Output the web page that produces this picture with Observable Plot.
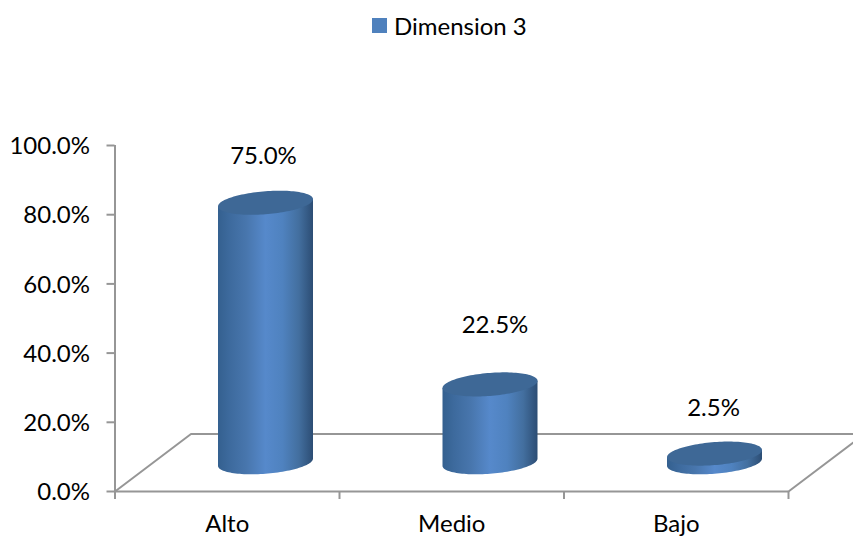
<!DOCTYPE html>
<html lang="es">
<head>
<meta charset="utf-8">
<script src="https://cdn.jsdelivr.net/npm/d3@7"></script>
<script src="https://cdn.jsdelivr.net/npm/@observablehq/plot@0.6"></script>
<style>
  html, body { margin: 0; padding: 0; background: #fff; }
  #legend { height: 54px; box-sizing: border-box; padding: 0 0 3px 372px; display: flex; align-items: center;
            font: 24px Lato, sans-serif; color: #000; }
  #legend i { width: 15px; height: 15px; background: #4f81bd; margin-right: 7px; display: block; }
  #chart svg { display: block; }
</style>
</head>
<body>
<div id="legend"><i></i><span>Dimension 3</span></div>
<div id="chart"></div>
<script>
const categories = ["Alto", "Medio", "Bajo"];
const shares = [75.0, 22.5, 2.5];
const yTicks = [0, 20, 40, 60, 80, 100];

// Plot area in pixels; x counts category slots, y counts percent.
const slotPx = 224.5, percentPx = 3.46;
const plotLeft = 114.5, plotTop = 91, plotH = 346, W = 853, H = 483;
const xMax = (W - plotLeft) / slotPx;

// Oblique floor depth and cylinder proportions, in data units.
const depthX = 76 / slotPx, depthY = 57.5 / percentPx;
const rx = 47.5 / slotPx, ry = 11.5 / percentPx;
const tilt = 3.6 / percentPx;
const cylinderShift = 0.75 / slotPx;

const slots = categories.map((name, i) => ({name, value: shares[i], cx: i + 0.5 + depthX / 2 + cylinderShift}));
const steps = d3.range(0, 61).map(k => Math.cos(Math.PI * (1 - k / 60)));

// Lower or upper rim of a sheared ellipse sitting at height h.
const rim = (t, h, side) => depthY / 2 + h + tilt * t + side * ry * Math.sqrt(Math.max(0, 1 - t * t));

const body = slots.flatMap(s => steps.map(t => ({
  name: s.name, x: s.cx + rx * t, y1: rim(t, 0, -1), y2: rim(t, s.value, 0)
})));
const cap = slots.flatMap(s => steps.map(t => ({
  name: s.name, x: s.cx + rx * t, y1: rim(t, s.value, -1), y2: rim(t, s.value, 1)
})));

// Floor outline: left edge, back edge, right edge.
const floor = [[0, 0], [depthX, depthY], [3 + depthX, depthY], [3, 0]];

// Data labels sit at differing heights above their caps (pixel nudges, converted to data units).
const labelNudge = {Alto: [-2.5, 46.5], Medio: [4.5, 60], Bajo: [-1.5, 46]};
const labels = slots.map(s => ({
  x: s.cx + labelNudge[s.name][0] / slotPx,
  y: depthY / 2 + s.value + labelNudge[s.name][1] / percentPx,
  text: s.value.toFixed(1) + "%"
}));

const gray = "#969696";

const defs = () => {
  const d = d3.create("svg:defs");
  const g = d.append("linearGradient").attr("id", "cylinder");
  [[0, "#34608f"], [0.12, "#3d6a9d"], [0.3, "#4876ad"], [0.5, "#5689cb"], [0.68, "#4f82bf"], [0.85, "#436f9f"], [1, "#2c4d74"]]
    .forEach(([o, c]) => g.append("stop").attr("offset", o).attr("stop-color", c));
  return d.node();
};

const chart = Plot.plot({
  width: W, height: H,
  marginLeft: plotLeft, marginRight: 0, marginTop: plotTop, marginBottom: H - plotTop - plotH,
  style: {background: "#fff", color: "#000", fontFamily: "Lato, sans-serif"},
  x: {type: "linear", domain: [0, xMax]},
  y: {type: "linear", domain: [0, 100]},
  marks: [
    defs,
    Plot.line(floor, {x: d => d[0], y: d => d[1], stroke: gray, strokeWidth: 2}),
    Plot.ruleY([0], {x1: 0, x2: 3, stroke: gray, strokeWidth: 2}),
    Plot.ruleX([0], {y1: 0, y2: 100, stroke: gray, strokeWidth: 2}),
    Plot.axisY({ticks: yTicks, tickSize: 8, stroke: gray, strokeWidth: 2, tickFormat: () => "", label: null}),
    Plot.axisY({ticks: yTicks, tickSize: 0, tickPadding: 25, dy: 1, fontSize: 24,
      tickFormat: d => d.toFixed(1) + "%", label: null}),
    Plot.axisX({ticks: [0, 1, 2, 3], tickSize: 8, stroke: gray, strokeWidth: 2, tickFormat: () => "", label: null}),
    Plot.axisX({ticks: categories.map((_, i) => i + 0.5), tickSize: 0, tickPadding: 23, fontSize: 24,
      tickFormat: d => categories[Math.floor(d)], label: null}),
    Plot.areaY(body, {x: "x", y1: "y1", y2: "y2", z: "name", fill: "url(#cylinder)", curve: "linear"}),
    Plot.areaY(cap, {x: "x", y1: "y1", y2: "y2", z: "name", fill: "#3e6896", curve: "linear"}),
    Plot.text(labels, {x: "x", y: "y", text: "text", fontSize: 24, fill: "#000"})
  ]
});
document.getElementById("chart").appendChild(chart);
</script>
</body>
</html>
